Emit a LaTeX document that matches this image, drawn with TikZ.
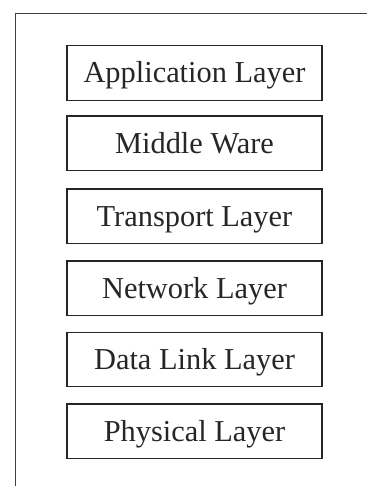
\documentclass[tikz,border=0pt]{standalone}
\usepackage{fontspec}
\setmainfont{Liberation Serif}
\begin{document}
\begin{tikzpicture}[x=1pt,y=-1pt,
  layerbox/.style={draw=black!85,line width=1.2pt,rectangle,minimum width=255pt,minimum height=54.5pt,inner sep=0pt,
    text height=20pt,text depth=0pt,font=\fontsize{30.4pt}{34pt}\selectfont,text=black!85},
  frameline/.style={draw=black!75,line width=1.3pt}]
\useasboundingbox (0,0) rectangle (368,486);
\draw[frameline] (15.5,486) -- (15.5,13.3) -- (367,13.3);
\node[layerbox] (app) at (194.5,73) {Application Layer};
\node[layerbox] (mid) at (194.5,143.2) {Middle Ware};
\node[layerbox] (tra) at (194.5,216.3) {Transport Layer};
\node[layerbox] (net) at (194.5,288.3) {Network Layer};
\node[layerbox] (dat) at (194.5,359.5) {Data Link Layer};
\node[layerbox] (phy) at (194.5,431.2) {Physical Layer};
\end{tikzpicture}
\end{document}
